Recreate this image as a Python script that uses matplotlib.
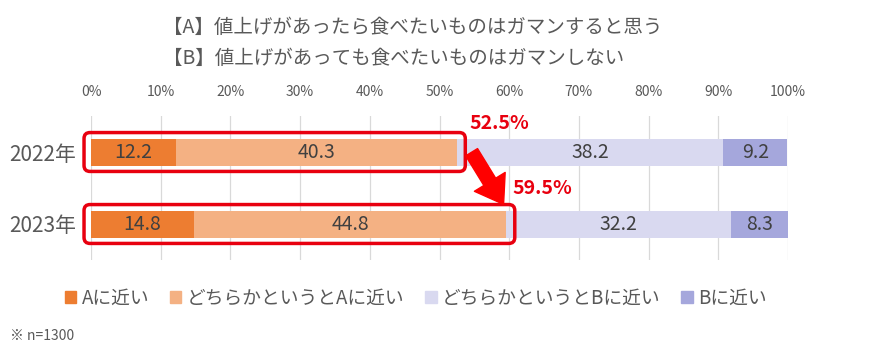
import matplotlib

matplotlib.use("Agg")
import matplotlib.pyplot as plt  # noqa: E402
import numpy as np  # noqa: E402
from matplotlib.patches import FancyBboxPatch, Patch  # noqa: E402

plt.rcParams["font.family"] = ["Noto Sans CJK JP", "DejaVu Sans"]

years = ["2022年", "2023年"]
series = ["Aに近い", "どちらかというとAに近い", "どちらかというとBに近い", "Bに近い"]
values = np.array([
    [12.2, 40.3, 38.2, 9.2],
    [14.8, 44.8, 32.2, 8.3],
])
a_totals = ["52.5%", "59.5%"]
ticks = list(range(0, 101, 10))
title_a = "【A】値上げがあったら食べたいものはガマンすると思う"
title_b = "【B】値上げがあっても食べたいものはガマンしない"
note = "※ n=1300"

COLORS = ["#ED7D31", "#F4B183", "#D9D9F0", "#A5A7DC"]
TXT = "#595959"
RED = "#E8000F"

fig = plt.figure(figsize=(8.72, 3.51), dpi=100)
ax = fig.add_axes([91 / 872, 91 / 351, 697 / 872, 144 / 351])

y = np.arange(len(years))
h = 0.375
left = np.zeros(len(years))
for j, name in enumerate(series):
    ax.barh(y, values[:, j], left=left, height=h, color=COLORS[j], label=name, zorder=2)
    for i in range(len(years)):
        ax.text(left[i] + values[i, j] / 2, y[i], f"{values[i, j]:.1f}", ha="center",
                va="center", fontsize=14, color="#404040", zorder=3)
    left += values[:, j]

# red boxes around the A side
cum_a = values[:, 0] + values[:, 1]
xpx = 100 / 697
ypx = 2 / 144
for i in range(len(years)):
    box = FancyBboxPatch((-1.0, y[i] - 0.27), cum_a[i] + 2.2, 0.54,
                         boxstyle=f"round,pad=0,rounding_size={6 * xpx}",
                         mutation_aspect=ypx / xpx, facecolor="none", edgecolor=RED,
                         linewidth=2.5, zorder=4, clip_on=False)
    ax.add_patch(box)

ax.text(cum_a[0] + 1.8, y[0] - 0.39, a_totals[0], color=RED, fontsize=14,
        fontweight="bold", ha="left", va="center")
ax.text(cum_a[1] + 0.9, y[1] - 0.5, a_totals[1], color=RED, fontsize=14,
        fontweight="bold", ha="left", va="center")
ax.annotate("", xy=(cum_a[1] - 0.2, y[1] - 0.24), xytext=(cum_a[0] + 1.9, y[0] - 0.03),
            arrowprops=dict(arrowstyle="simple,head_length=0.95,head_width=1.3,tail_width=0.5",
                            color="#FF0000", mutation_scale=20), zorder=5)

ax.set_xlim(0, 100)
ax.set_ylim(1.5, -0.5)
ax.set_yticks(y)
ax.set_yticklabels(years, fontsize=15, color=TXT)
ax.set_xticks(ticks)
ax.set_xticklabels([f"{t}%" for t in ticks], fontsize=10, color=TXT)
ax.xaxis.tick_top()
ax.tick_params(length=0, pad=12)
ax.tick_params(axis="y", pad=11)
for s in ax.spines.values():
    s.set_visible(False)
ax.grid(axis="x", color="#D9D9D9", linewidth=0.9, zorder=0)
ax.set_axisbelow(True)

fig.text(163 / 872, 1 - 27 / 351, title_a, fontsize=14, color=TXT, va="center")
fig.text(163 / 872, 1 - 58 / 351, title_b, fontsize=14, color=TXT, va="center")

handles = [Patch(color=c, label=s) for c, s in zip(COLORS, series)]
fig.legend(handles=handles, loc="center", bbox_to_anchor=(416 / 872, 1 - 298 / 351), ncol=4,
           frameon=False, fontsize=13.5, handlelength=0.6, handleheight=0.6, handletextpad=0.3,
           columnspacing=1.1, labelcolor=TXT)
fig.text(10 / 872, 1 - 336 / 351, note, fontsize=10, color=TXT, va="center")

fig.savefig("out.png", dpi=100)
